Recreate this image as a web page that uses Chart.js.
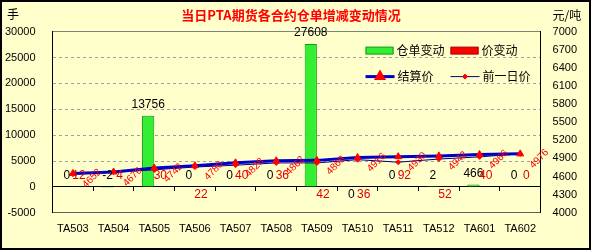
<!DOCTYPE html>
<html>
<head>
<meta charset="utf-8">
<script src="https://cdn.jsdelivr.net/npm/chart.js@4.4.1/dist/chart.umd.min.js"></script>
<style>
  html, body { margin: 0; padding: 0; background: #ffffcc; }
  canvas { display: block; }
</style>
</head>
<body>
<canvas id="chartCangdan" width="591" height="250"></canvas>
<script>
const categories = ["TA503", "TA504", "TA505", "TA506", "TA507", "TA508",
  "TA509", "TA510", "TA511", "TA512", "TA601", "TA602"];
const warrantChange = [0, -2, 13756, 0, 0, 0, 27608, 0, 0, 2, 466, 0];
const priceChange = [12, 4, 30, 22, 40, 36, 42, 36, 92, 52, 40, 0];
const settlePrice = [4652, 4676, 4742, 4780, 4828, 4862, 4868, 4916, 4930, 4942, 4966, 4976];
const prevPrice = [4640, 4672, 4712, 4758, 4788, 4826, 4826, 4880, 4838, 4890, 4926, 4976];

// which bar labels sit under the zero line (by dataset index)
const labelBelow = { 0: [7], 1: [3, 6, 7, 9] };

const tickFont = { family: '"Liberation Sans", Arial, sans-serif', size: 11 };
const cjk = '"Noto Sans CJK SC", sans-serif';

// chart.js counts tick padding on both sides of the labels; keep only one
function trimWidth(scale) {
  scale.width -= scale.options.ticks.padding;
}

const chartBackground = {
  id: "chartBackground",
  beforeDraw(chart) {
    const { ctx, width, height } = chart;
    ctx.save();
    ctx.fillStyle = "#ffffcc";
    ctx.fillRect(0, 0, width, height);
    ctx.restore();
  },
  afterDraw(chart) {
    const { ctx, width, height, chartArea } = chart;
    ctx.save();
    ctx.strokeStyle = "#000";
    ctx.lineWidth = 2;
    ctx.strokeRect(1, 1, width - 2, height - 2);
    ctx.fillStyle = "#000";
    ctx.font = "12px " + cjk;
    ctx.textBaseline = "middle";
    ctx.textAlign = "left";
    ctx.fillText("手", 7, chartArea.top - 17);
    ctx.fillText("元/吨", chart.scales.y1.left + 12, chartArea.top - 16);
    ctx.restore();
  },
};

const valueLabels = {
  id: "valueLabels",
  afterDatasetsDraw(chart) {
    const { ctx } = chart;
    ctx.save();
    ctx.textAlign = "center";
    ctx.textBaseline = "middle";
    chart.data.datasets.forEach((ds, i) => {
      const meta = chart.getDatasetMeta(i);
      if (meta.hidden) return;
      if (meta.type === "bar") {
        const below = labelBelow[i] || [];
        ctx.font = "12px " + tickFont.family;
        ctx.fillStyle = ds.labelColor;
        meta.data.forEach((el, j) => {
          const y = below.includes(j)
            ? Math.max(el.y, el.base) + 8
            : Math.min(el.y, el.base) - 11;
          ctx.fillText(String(ds.data[j]), el.x, y);
        });
      } else if (ds.rotatedLabels) {
        ctx.font = "10px " + tickFont.family;
        ctx.fillStyle = "#ff0000";
        meta.data.forEach((el, j) => {
          ctx.save();
          ctx.translate(el.x + 19, el.y + 5);
          ctx.rotate(-Math.PI / 4);
          ctx.fillText(String(ds.data[j]), 0, 0);
          ctx.restore();
        });
      }
    });
    ctx.restore();
  },
};

const insideLegend = {
  id: "insideLegend",
  afterDraw(chart) {
    const { ctx, chartArea } = chart;
    const cols = [chartArea.right - 175, chartArea.right - 90];
    const rows = [chartArea.top + 19, chartArea.top + 45];
    ctx.save();
    ctx.font = "12px " + cjk;
    ctx.textBaseline = "middle";
    ctx.textAlign = "left";
    chart.data.datasets.forEach((ds, i) => {
      const x = cols[i % 2];
      const y = rows[Math.floor(i / 2)];
      if (ds.type === "line") {
        ctx.strokeStyle = ds.borderColor;
        ctx.lineWidth = ds.borderWidth;
        ctx.beginPath();
        ctx.moveTo(x, y);
        ctx.lineTo(x + 29, y);
        ctx.stroke();
        ctx.fillStyle = ds.pointBackgroundColor;
        ctx.strokeStyle = ds.pointBorderColor;
        Chart.helpers.drawPoint(ctx, {
          pointStyle: ds.pointStyle, radius: ds.pointRadius, rotation: 0, borderWidth: 1,
        }, x + 14.5, y);
        ctx.fillStyle = "#000";
        ctx.fillText(ds.label, x + 32, y);
      } else {
        ctx.fillStyle = ds.backgroundColor;
        ctx.fillRect(x, y - 3.5, 28, 7);
        ctx.strokeStyle = ds.borderColor;
        ctx.lineWidth = 1;
        ctx.strokeRect(x + 0.5, y - 3.5, 27, 7);
        ctx.fillStyle = "#000";
        ctx.fillText(ds.label, x + 31, y);
      }
    });
    ctx.restore();
  },
};

new Chart(document.getElementById("chartCangdan"), {
  type: "bar",
  data: {
    labels: categories,
    datasets: [
      {
        label: "仓单变动",
        data: warrantChange,
        yAxisID: "y",
        backgroundColor: "#33ee33",
        borderColor: "#119911",
        borderWidth: 1,
        barPercentage: 1,
        categoryPercentage: 0.6,
        labelColor: "#000",
        order: 1,
      },
      {
        label: "价变动",
        data: priceChange,
        yAxisID: "y",
        backgroundColor: "#ff0000",
        borderColor: "#aa0000",
        borderWidth: 1,
        barPercentage: 1,
        categoryPercentage: 0.6,
        labelColor: "#e00000",
        order: 1,
      },
      {
        type: "line",
        label: "结算价",
        data: settlePrice,
        yAxisID: "y1",
        borderColor: "#0000cc",
        borderWidth: 3,
        pointStyle: "triangle",
        pointRadius: 4,
        pointBackgroundColor: "#ff0000",
        pointBorderColor: "#ff0000",
        pointBorderWidth: 1,
        tension: 0,
        rotatedLabels: true,
        order: 0,
      },
      {
        type: "line",
        label: "前一日价",
        data: prevPrice,
        yAxisID: "y1",
        borderColor: "#000080",
        borderWidth: 1,
        pointStyle: "rectRot",
        pointRadius: 2.5,
        pointBackgroundColor: "#ff0000",
        pointBorderColor: "#ff0000",
        pointBorderWidth: 1,
        tension: 0,
        order: 0,
      },
    ],
  },
  options: {
    responsive: false,
    animation: false,
    events: [],
    layout: { padding: { left: 5, right: 14, top: 0, bottom: 14 } },
    plugins: {
      legend: { display: false },
      tooltip: { enabled: false },
      title: {
        display: true,
        text: "当日PTA期货各合约仓单增减变动情况",
        color: "#ff0000",
        font: { family: cjk, size: 13, weight: "bold" },
        padding: { top: 7, bottom: 9 },
      },
    },
    scales: {
      x: {
        offset: true,
        grid: { display: false, drawTicks: false },
        border: { display: true, color: "#606060", width: 1 },
        ticks: { color: "#000", font: tickFont, padding: 10, autoSkip: false, maxRotation: 0 },
        afterFit: (scale) => { scale.height -= scale.options.ticks.padding; },
      },
      x2: {
        axis: "x",
        type: "category",
        position: { y: 0 },
        offset: true,
        grid: { drawOnChartArea: false, offset: true, color: "#000", tickLength: 4 },
        border: { color: "#000", width: 1 },
        ticks: { display: false },
      },
      y: {
        position: "left",
        min: -5000,
        max: 30000,
        afterFit: trimWidth,
        ticks: {
          stepSize: 5000,
          color: "#000",
          font: tickFont,
          padding: 17,
          callback: (v) => String(v),
        },
        grid: {
          drawTicks: false,
          color: (c) => {
            if (!c.tick) return "#a0a0a0";
            if (c.tick.value === 30000) return "#808080";
            if (c.tick.value === 0) return "#000";
            return "#a0a0a0";
          },
        },
        border: {
          color: "#000",
          dash: (c) => (c.tick && c.tick.value > -5000 && c.tick.value < 30000 && c.tick.value !== 0 ? [3, 3] : []),
        },
      },
      y1: {
        position: "right",
        min: 4000,
        max: 7000,
        afterFit: trimWidth,
        ticks: {
          stepSize: 300,
          color: "#000",
          font: tickFont,
          padding: 12,
          callback: (v) => String(v),
        },
        grid: { drawOnChartArea: false, drawTicks: false },
        border: { color: "#000" },
      },
    },
  },
  plugins: [chartBackground, valueLabels, insideLegend],
});
</script>
</body>
</html>
